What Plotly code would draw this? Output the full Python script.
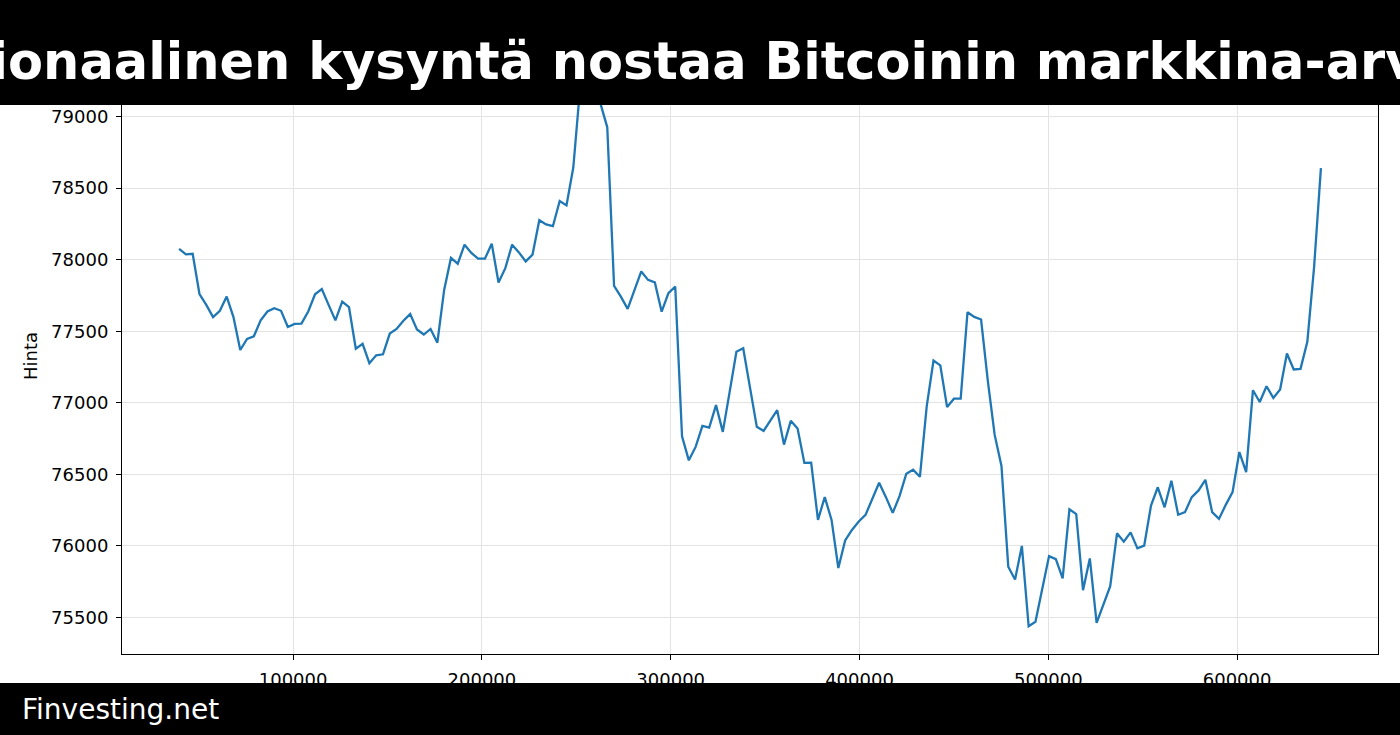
import plotly.graph_objects as go

title_text = "Institutionaalinen kysyntä nostaa Bitcoinin markkina-arvoa"
footer_text = "Finvesting.net"
y_label = "Hinta"

x_values = [
    39600, 43200, 46800, 50400, 54000, 57600, 61200, 64800, 68400, 72000,
    75600, 79200, 82800, 86400, 90000, 93600, 97200, 100800, 104400, 108000,
    111600, 115200, 118800, 122400, 126000, 129600, 133200, 136800, 140400, 144000,
    147600, 151200, 154800, 158400, 162000, 165600, 169200, 172800, 176400, 180000,
    183600, 187200, 190800, 194400, 198000, 201600, 205200, 208800, 212400, 216000,
    219600, 223200, 226800, 230400, 234000, 237600, 241200, 244800, 248400, 252000,
    255600, 259200, 262800, 266400, 270000, 273600, 277200, 280800, 284400, 288000,
    291600, 295200, 298800, 302400, 306000, 309600, 313200, 316800, 320400, 324000,
    327600, 331200, 334800, 338400, 342000, 345600, 349200, 352800, 356400, 360000,
    363600, 367200, 370800, 374400, 378000, 381600, 385200, 388800, 392400, 396000,
    399600, 403200, 406800, 410400, 414000, 417600, 421200, 424800, 428400, 432000,
    435600, 439200, 442800, 446400, 450000, 453600, 457200, 460800, 464400, 468000,
    471600, 475200, 478800, 482400, 486000, 489600, 493200, 496800, 500400, 504000,
    507600, 511200, 514800, 518400, 522000, 525600, 529200, 532800, 536400, 540000,
    543600, 547200, 550800, 554400, 558000, 561600, 565200, 568800, 572400, 576000,
    579600, 583200, 586800, 590400, 594000, 597600, 601200, 604800, 608400, 612000,
    615600, 619200, 622800, 626400, 630000, 633600, 637200, 640800, 644400,
]

price_values = [
    78076, 78037, 78041, 77760, 77684, 77599, 77643, 77742, 77599, 77369,
    77447, 77465, 77576, 77638, 77661, 77643, 77530, 77551, 77553, 77638,
    77758, 77795, 77684, 77576, 77707, 77668, 77378, 77412, 77277, 77332,
    77339, 77484, 77516, 77574, 77620, 77512, 77477, 77516, 77420, 77789,
    78012, 77972, 78105, 78047, 78007, 78007, 78112, 77841, 77941, 78105,
    78051, 77988, 78035, 78276, 78246, 78234, 78410, 78379, 78644, 79200,
    79340, 79250, 79090, 78925, 77817, 77742, 77656, 77789, 77918, 77859,
    77841, 77637, 77766, 77813, 76766, 76598, 76692, 76839, 76827, 76984,
    76797, 77075, 77357, 77381, 77107, 76832, 76804, 76879, 76949, 76708,
    76874, 76820, 76580, 76582, 76182, 76341, 76182, 75846, 76038, 76112,
    76171, 76217, 76330, 76442, 76341, 76231, 76348, 76505, 76533, 76483,
    76975, 77295, 77262, 76970, 77029, 77029, 77633, 77600, 77582, 77150,
    76776, 76559, 75855, 75766, 76000, 75439, 75470, 75700, 75929, 75908,
    75773, 76256, 76223, 75691, 75913, 75462, 75598, 75719, 76088, 76030,
    76095, 75983, 76002, 76282, 76410, 76270, 76455, 76218, 76236, 76341,
    76388, 76462, 76236, 76189, 76287, 76376, 76656, 76516, 77088, 77006,
    77116, 77034, 77093, 77345, 77233, 77237, 77426, 77950, 78640,
]

x_ticks = [100000, 200000, 300000, 400000, 500000, 600000]
y_ticks = [75500, 76000, 76500, 77000, 77500, 78000, 78500, 79000]

FONT = "DejaVu Sans"
W, H = 1400, 735
ML, MR, MT, MB = 122, 22, 40, 81
PH = H - MT - MB

def py(pix):
    # pixel from top -> paper y
    return 1 - (pix - MT) / PH

def px(pix):
    return (pix - ML) / (W - ML - MR)

fig = go.Figure()
fig.add_trace(go.Scatter(
    x=x_values, y=price_values, mode="lines",
    line=dict(color="#1f77b4", width=2.3),
    showlegend=False, hoverinfo="skip",
))

axis_common = dict(
    showline=True, linecolor="black", linewidth=1.1, mirror=True,
    ticks="outside", ticklen=5, tickwidth=1.1, tickcolor="black",
    showgrid=True, gridcolor="#e3e3e3", gridwidth=1,
    zeroline=False, tickformat="d",
    tickfont=dict(family=FONT, size=18, color="black"),
)

fig.update_xaxes(range=[9360, 674640], tickvals=x_ticks, ticklabelstandoff=4, **axis_common)
fig.update_yaxes(range=[75245, 79535], tickvals=y_ticks, ticklabelstandoff=4, **axis_common)

shapes = [
    dict(type="rect", xref="paper", yref="paper", x0=px(-50), x1=px(1450),
         y0=py(105), y1=py(-20), fillcolor="black", line=dict(width=0), layer="above"),
    dict(type="rect", xref="paper", yref="paper", x0=px(-50), x1=px(1450),
         y0=py(760), y1=py(683), fillcolor="black", line=dict(width=0), layer="above"),
]

annotations = [
    dict(text="<b>" + title_text + "</b>", xref="paper", yref="paper",
         x=px(-224), y=py(61), xanchor="left", yanchor="middle", showarrow=False,
         font=dict(family=FONT, size=51, color="white")),
    dict(text=footer_text, xref="paper", yref="paper",
         x=px(20), y=py(709), xanchor="left", yanchor="middle", showarrow=False,
         font=dict(family=FONT, size=28, color="white")),
    dict(text=y_label, xref="paper", yref="paper",
         x=px(30), y=py(356), xanchor="center", yanchor="middle", showarrow=False,
         textangle=-90, font=dict(family=FONT, size=18, color="black")),
]

fig.update_layout(
    width=W, height=H,
    margin=dict(l=ML, r=MR, t=MT, b=MB, autoexpand=False),
    paper_bgcolor="white", plot_bgcolor="white",
    shapes=shapes, annotations=annotations,
    font=dict(family=FONT),
)

fig.write_html(
    "out.html",
    config={"displayModeBar": False},
    post_script="document.body.style.margin='0';document.body.style.overflow='hidden';",
)
